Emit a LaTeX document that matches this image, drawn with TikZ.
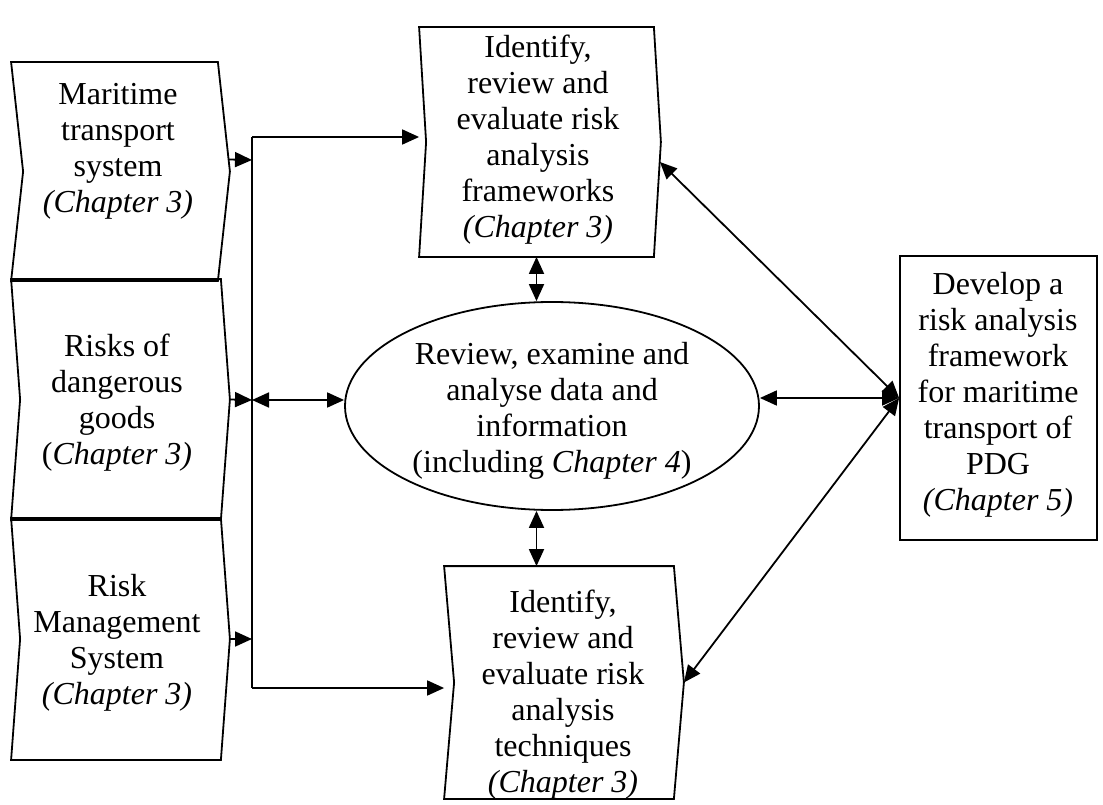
\documentclass[tikz,border=0pt]{standalone}
\usepackage{fontspec}
\setmainfont{Liberation Serif}
\usetikzlibrary{
  arrows.meta,      % Triangle 箭头
  calc,             % 坐标计算
  shapes.geometric, % 椭圆节点
  positioning       % 节点相对定位
}
\tikzset{
  box line/.style={
    line width=1.8pt,
    line join=miter
  },
  chev body/.style={
    rectangle,
    inner sep=0pt
  },
  txt/.style={
    align=center,
    inner sep=0pt,
    font=\fontsize{32}{36}\selectfont
  },
  oval/.style={
    ellipse,
    draw,
    inner sep=0pt,
    line width=1.8pt
  },
  plain box/.style={
    rectangle,
    draw,
    inner sep=0pt,
    line width=1.8pt
  },
  flow/.style={
    -{Triangle[length=17pt,width=15pt]},
    line width=1.8pt
  },
  both flow/.style={
    {Triangle[length=17pt,width=15pt]}-{Triangle[length=17pt,width=15pt]},
    line width=1.8pt
  }
}
% 折角框：左侧内凹、右侧外凸
\newcommand{\chevronbox}[2]{%
  \draw[box line] (#1.north west) -- ($(#1.west)+(#2,0)$) -- (#1.south west)
    -- (#1.south east) -- ($(#1.east)+(#2,0)$) -- (#1.north east) -- cycle;}

\begin{document}
\begin{tikzpicture}[x=1pt, y=-1pt, line width=1.8pt]
  \useasboundingbox (0,0) rectangle (1103,805);

  % 1. 左侧三个输入框
  \node[chev body, minimum width=205pt, minimum height=217pt] (mts) at (114.5,171.5) {};
  \node[chev body, minimum width=208pt, minimum height=239pt] (rdg) at (116,399.5) {};
  \node[chev body, minimum width=208pt, minimum height=240pt] (rms) at (116,639) {};
  \chevronbox{mts}{12}
  \chevronbox{rdg}{9}
  \chevronbox{rms}{9}
  \node[txt] (mtsText) at (118,151) {Maritime\\transport\\system\\\textit{(Chapter 3)}};
  \node[txt] (rdgText) at (117,403) {Risks of\\dangerous\\goods\\(\textit{Chapter 3)}};
  \node[txt] (rmsText) at (117,643) {Risk\\Management\\System\\\textit{(Chapter 3)}};

  % 2. 中间上下两个评估框
  \node[chev body, minimum width=233pt, minimum height=228pt] (frm) at (536.5,142) {};
  \node[chev body, minimum width=228pt, minimum height=231pt] (tec) at (559,682.5) {};
  \chevronbox{frm}{7}
  \chevronbox{tec}{10}
  \node[txt] (frmText) at (538,140) {Identify,\\review and\\evaluate risk\\analysis\\frameworks\\\textit{(Chapter 3)}};
  \node[txt] (tecText) at (563,695) {Identify,\\review and\\evaluate risk\\analysis\\techniques\\\textit{(Chapter 3)}};

  % 3. 中央椭圆与右侧结果框
  \node[oval, minimum width=414pt, minimum height=208pt] (rev) at (552,406) {};
  \node[txt] (revText) at (552,411) {Review, examine and\\analyse data and\\information\\(including \textit{Chapter 4})};
  \node[plain box, minimum width=197pt, minimum height=284pt] (dev) at (998.5,398) {};
  \node[txt] (devText) at (998,395) {Develop a\\risk analysis\\framework\\for maritime\\transport of\\PDG\\\textit{(Chapter 5)}};

  % 4. 汇流竖线
  \coordinate (busTop) at (252,137);
  \coordinate (bus1) at (252,160);
  \coordinate (bus2) at (252,400);
  \coordinate (bus3) at (252,639);
  \coordinate (busBot) at (252,688);
  \draw (busTop) -- (busBot);
  \draw[flow] ([shift={(11,-12)}]mts.east) -- (bus1);
  \draw[flow] ([xshift=9pt]rdg.east) -- (bus2);
  \draw[flow] ([xshift=9pt]rms.east) -- (bus3);
  \draw[flow] (busTop) -- (busTop -| frm.west);
  \draw[flow] (busBot) -- (busBot -| tec.west);

  % 5. 双向箭头
  \draw[both flow] (bus2) -- (bus2 -| rev.west);
  \draw[both flow] (frm.south) -- (frm.south |- rev.north);
  \draw[both flow] (frm.south |- rev.south) -- (frm.south |- tec.north);
  \draw[both flow] (rev.east |- dev.west) -- (dev.west);
  \draw[both flow] ([shift={(6,20)}]frm.east) -- (dev.west);
  \draw[both flow] ([xshift=10pt]tec.east) -- (dev.west);
\end{tikzpicture}
\end{document}
